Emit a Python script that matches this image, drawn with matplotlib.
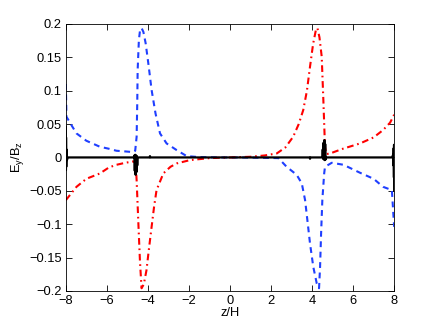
import matplotlib
matplotlib.use("Agg")
import matplotlib.pyplot as plt

plt.rcParams['font.family'] = ['Liberation Sans', 'DejaVu Sans']
plt.rcParams['mathtext.fontset'] = 'custom'
plt.rcParams['mathtext.rm'] = 'Liberation Sans'
plt.rcParams['mathtext.it'] = 'Liberation Sans'

# blue dashed curve
blue_z = [-8.0, -7.97, -7.7, -7.48, -7.0, -6.34, -5.9, -5.53, -5.1, -4.72,
          -4.62, -4.55, -4.52, -4.5, -4.44, -4.39, -4.31, -4.22, -4.11, -3.98,
          -3.82, -3.63, -3.41, -3.09, -2.6, -2.11, -1.5, -0.5, 0.5, 1.5,
          2.0, 2.36, 2.76, 3.25, 3.5, 3.66, 3.79, 3.9, 4.06, 4.23,
          4.34, 4.39, 4.44, 4.5, 4.59, 4.63, 4.96, 5.53, 6.34, 7.0,
          7.46, 7.89, 8.0]
blue_e = [0.11, 0.061, 0.047, 0.036, 0.025, 0.016, 0.013, 0.010, 0.009, 0.008,
          0.010, 0.031, 0.081, 0.131, 0.176, 0.189, 0.194, 0.188, 0.171, 0.141,
          0.101, 0.066, 0.036, 0.021, 0.011, 0.002, 0.0005, 0.0, 0.0, -0.0005,
          -0.0008, -0.001, -0.014, -0.026, -0.039, -0.064, -0.099, -0.129, -0.164, -0.189,
          -0.196, -0.164, -0.114, -0.064, -0.024, -0.014, -0.008, -0.011, -0.023, -0.032,
          -0.044, -0.049, -0.104]

# red dash-dot curve
red_z = [-8.0, -7.48, -7.0, -6.34, -5.9, -5.53, -5.1, -4.72, -4.6, -4.55,
         -4.47, -4.39, -4.31, -4.2, -4.07, -3.95, -3.82, -3.7, -3.58, -3.25,
         -2.9, -2.6, -1.95, -1.0, 0.0, 1.0, 1.7, 2.28, 2.7, 3.08,
         3.35, 3.57, 3.75, 3.9, 4.05, 4.18, 4.26, 4.36, 4.47, 4.55,
         4.63, 4.7, 4.88, 5.5, 6.34, 7.0, 7.46, 7.8, 8.0]
red_e = [-0.064, -0.044, -0.032, -0.024, -0.015, -0.011, -0.008, -0.006, -0.008, -0.034,
         -0.095, -0.154, -0.196, -0.190, -0.169, -0.137, -0.104, -0.074, -0.049, -0.024,
         -0.014, -0.009, -0.004, -0.001, 0.0, 0.001, 0.003, 0.006, 0.015, 0.031,
         0.05, 0.071, 0.1, 0.136, 0.17, 0.19, 0.194, 0.18, 0.151, 0.086,
         0.016, 0.005, 0.006, 0.013, 0.021, 0.03, 0.041, 0.052, 0.064]

# black solid curve with spikes
black_z = [-8.0, -7.995, -7.99, -7.98, -7.97, -7.95, -7.9, -6.0, -4.7, -4.66,
           -4.64, -4.62, -4.6, -4.58, -4.56, -4.54, -4.52, -4.5, -3.92, -3.9,
           -3.88, -2.0, 0.0, 2.0, 3.88, 3.9, 3.92, 4.5, 4.52, 4.54,
           4.56, 4.58, 4.6, 4.62, 4.64, 4.66, 4.7, 6.0, 7.9, 7.95, 7.97,
           7.98, 7.99, 7.995, 8.0]
black_e = [0.046, -0.019, 0.03, -0.014, 0.012, -0.004, 0.0, 0.0, 0.0, 0.003,
           -0.02, 0.004, -0.026, 0.003, -0.022, 0.002, -0.012, 0.0, 0.0, 0.002,
           0.0, 0.0, 0.0, 0.0, 0.0, -0.002, 0.0, 0.0, 0.012, -0.002,
           0.022, -0.003, 0.026, -0.004, 0.02, -0.003, 0.0, 0.0, 0.0, 0.004, -0.012,
           0.014, -0.03, 0.019, -0.05]

fig = plt.figure(figsize=(4.36, 3.28), dpi=100)
ax = fig.add_axes([0.151, 0.113, 0.753, 0.814])

ax.plot(blue_z, blue_e, '--', color='#1f3fff', lw=1.5, dashes=(2.8, 2.2))
ax.plot(red_z, red_e, '-.', color='#ff0000', lw=1.5, dashes=(3.2, 1.8, 0.8, 1.8))
ax.plot(black_z, black_e, '-', color='black', lw=1.6)

ax.set_xlim(-8, 8)
ax.set_ylim(-0.2, 0.2)
ax.set_xticks([-8, -6, -4, -2, 0, 2, 4, 6, 8])
ax.set_yticks([-0.2, -0.15, -0.1, -0.05, 0, 0.05, 0.1, 0.15, 0.2])
ax.set_yticklabels(['\u22120.2', '\u22120.15', '\u22120.1', '\u22120.05', '0',
                    '0.05', '0.1', '0.15', '0.2'])
ax.set_xticklabels(['\u22128', '\u22126', '\u22124', '\u22122', '0', '2', '4', '6', '8'])
ax.tick_params(direction='in', top=True, right=True, length=4, width=0.6,
               labelsize=9.3, pad=3)
for s in ax.spines.values():
    s.set_linewidth(0.6)

ax.set_xlabel('z/H', fontsize=9.3, labelpad=0)
ax.set_ylabel('E$_y$/B$_z$', fontsize=9.3, labelpad=2)

fig.savefig('out.png', dpi=100)
